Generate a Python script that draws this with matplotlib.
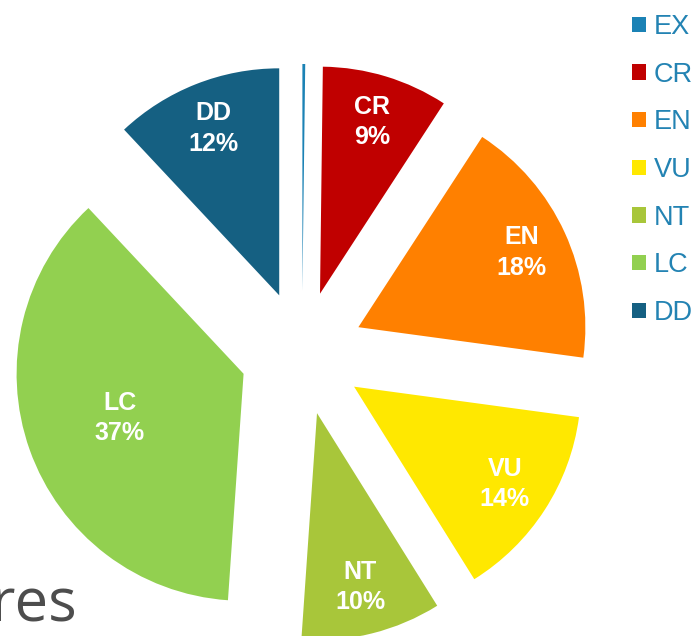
import numpy as np
import matplotlib.pyplot as plt

# IUCN categories (share of species)
categories = ['EX', 'CR', 'EN', 'VU', 'NT', 'LC', 'DD']
shares = [0.2, 9, 18, 14, 10, 37, 12]
colors = ['#1b82b5', '#c00000', '#ff8000', '#ffe800', '#a8c63a', '#92d050', '#156082']

fig = plt.figure(figsize=(6.92, 6.36), dpi=100)
ax = fig.add_axes([0, 0, 1, 1])

names = iter(categories)


def fmt(p):
    name = next(names)
    if p < 1:
        return ''
    return f'{name}\n{p:.0f}%'


wedges, texts, autotexts = ax.pie(
    shares, colors=colors, startangle=90, counterclock=False,
    radius=227, center=(302, 283), explode=[62] * len(shares),
    autopct=fmt, pctdistance=0.79,
    wedgeprops=dict(linewidth=0),
    textprops=dict(color='white', fontsize=18, fontweight='bold',
                   family='Liberation Sans', linespacing=1.35))

# LC label sits closer to the centre
for w, t, name in zip(wedges, autotexts, categories):
    t.set_ha('center')
    t.set_va('center')
    if name == 'LC':
        mid = np.deg2rad((w.theta1 + w.theta2) / 2)
        cx, cy = w.center
        t.set_position((cx + 0.58 * 227 * np.cos(mid), cy + 0.58 * 227 * np.sin(mid)))

ax.set_xlim(0, 692)
ax.set_ylim(0, 636)
ax.set_aspect('equal')
ax.axis('off')

leg = ax.legend(wedges, categories, loc='upper left', bbox_to_anchor=(632 / 692, 1 - 14 / 636),
                bbox_transform=fig.transFigure, frameon=False,
                prop=dict(family='Liberation Sans', size=19.5),
                labelcolor='#2383b3', handlelength=0.5, handleheight=0.5,
                handletextpad=0.3, labelspacing=0.8, borderaxespad=0, borderpad=0)

# cut-off slide title behind the chart
fig.text(77 / 692, 1 - 622 / 636, 'res', ha='right', va='baseline',
         fontsize=43, color='#4d4d4d', family='Open Sans')

fig.savefig('out.png', dpi=100)
